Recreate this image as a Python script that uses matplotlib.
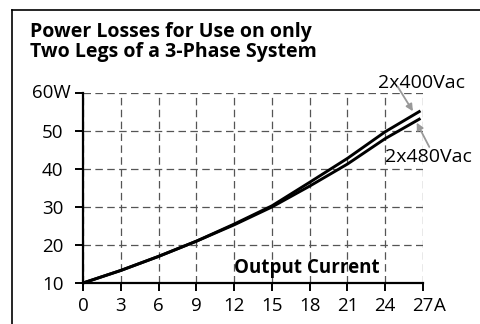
import matplotlib
matplotlib.use("Agg")
import matplotlib.pyplot as plt
from matplotlib.lines import Line2D

plt.rcParams["font.family"] = ["Open Sans", "DejaVu Sans"]

# output current (A) and losses (W) for the two supply voltages
current = [0, 3, 6, 9, 12, 15, 18, 21, 24, 26.8]
loss_400 = [10, 13.3, 17.0, 21.0, 25.5, 30.3, 36.5, 42.8, 49.8, 55.3]
loss_480 = [10, 13.3, 17.0, 21.0, 25.3, 30.0, 35.5, 41.3, 48.0, 53.3]

x_ticks = [0, 3, 6, 9, 12, 15, 18, 21, 24, 27]
y_ticks = [10, 20, 30, 40, 50, 60]

W, H = 481, 324
fig = plt.figure(figsize=(W / 100, H / 100), dpi=100)
ax = fig.add_axes([83 / W, 1 - 283 / H, 340 / W, 190 / H])

ax.plot(current, loss_400, color="black", lw=2.1, solid_capstyle="butt", clip_on=False)
ax.plot(current, loss_480, color="black", lw=2.1, solid_capstyle="butt", clip_on=False)

ax.set_xlim(0, 27)
ax.set_ylim(10, 60)
ax.set_xticks(x_ticks)
ax.set_yticks(y_ticks)
ax.set_xticklabels([str(t) for t in x_ticks])
# top label carries the unit, drawn separately below
ax.set_yticklabels([str(t) for t in y_ticks[:-1]] + [""])

for s in ("top", "right"):
    ax.spines[s].set_visible(False)
for s in ("left", "bottom"):
    ax.spines[s].set_linewidth(1.6)

ax.tick_params(axis="both", direction="out", length=6, width=1.4,
               labelsize=13.5, colors="black")
ax.tick_params(axis="x", pad=4)
ax.tick_params(axis="y", pad=8)

ax.grid(True, color="#555555", lw=0.9, linestyle=(0, (6, 3.5)))
ax.set_axisbelow(True)

ax.annotate(f"{y_ticks[-1]}W", xy=(0, y_ticks[-1]), xycoords=("axes fraction", "data"),
            xytext=(-8.6, 0), textcoords="offset points",
            ha="right", va="center", fontsize=13.5, annotation_clip=False)
ax.annotate("A", xy=(27, 0), xycoords=("data", "axes fraction"),
            xytext=(8, -10), textcoords="offset points",
            ha="left", va="top", fontsize=13.5, annotation_clip=False)

ax.text(17.8, 13.95, "Output Current", fontsize=13.5, fontweight="bold",
        ha="center", va="center")

# curve labels with grey pointers
arrow = dict(arrowstyle="-|>", color="#999999", lw=1.3, mutation_scale=10,
             shrinkA=0, shrinkB=0)
ax.text(23.4, 61.3, "2x400Vac", fontsize=14, ha="left", va="baseline", clip_on=False)
ax.text(24.0, 43.2, "2x480Vac", fontsize=14, ha="left", va="center", clip_on=False)
ax.annotate("", xy=(26.2, 55.2), xytext=(25.0, 61.6), arrowprops=arrow,
            annotation_clip=False)
ax.annotate("", xy=(26.5, 52.2), xytext=(27.5, 45.8), arrowprops=arrow,
            annotation_clip=False)

fig.text(30 / W, 1 - 57 / H, "Power Losses for Use on only\nTwo Legs of a 3-Phase System",
         fontsize=14, fontweight="bold", ha="left", va="baseline", linespacing=0.97)

# frame around the panel
fig.add_artist(Line2D([11.5 / W, 11.5 / W], [1 - 9.5 / H, 0], transform=fig.transFigure,
                      color="black", lw=1.2))
fig.add_artist(Line2D([11.5 / W, 1], [1 - 9.5 / H, 1 - 9.5 / H], transform=fig.transFigure,
                      color="black", lw=1.2))

fig.savefig("out.png", dpi=100)
